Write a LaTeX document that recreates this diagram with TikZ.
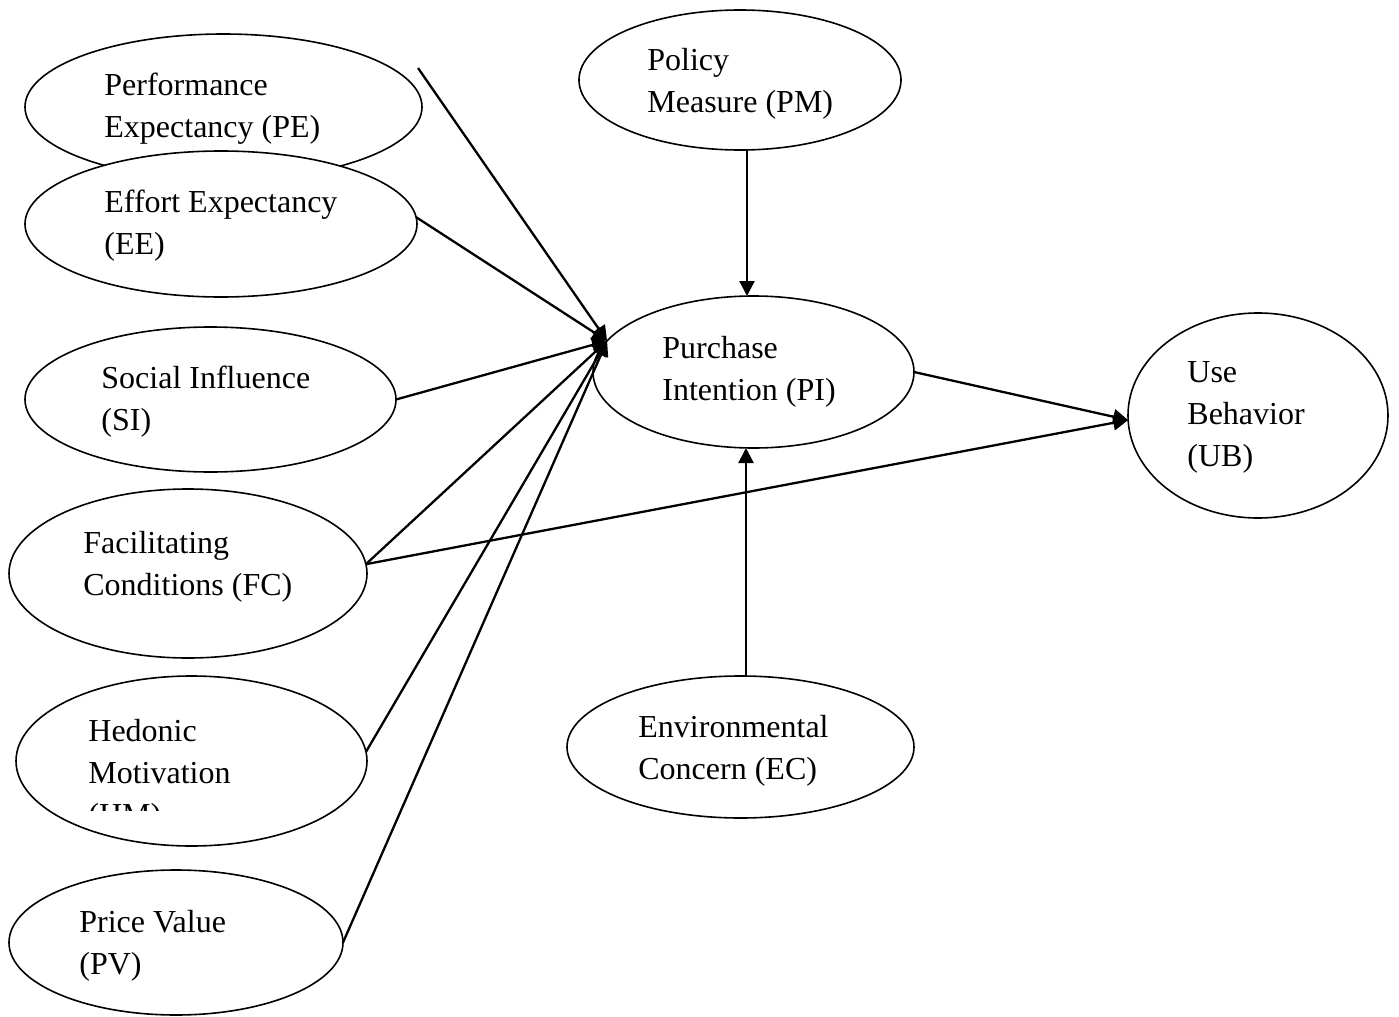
\documentclass[tikz,border=0pt]{standalone}
\usepackage{fontspec}
\setmainfont{Liberation Serif}
\usepackage{tikz}
\usetikzlibrary{shapes.geometric, arrows.meta}

\begin{document}
\begin{tikzpicture}[
		x=0.5pt, y=-0.5pt,
		construct/.style = {draw, ellipse, fill=white, line width=.8pt, inner sep=0pt, outer sep=0pt},
		txt/.style = {anchor=north west, align=left, inner sep=0pt, font=\fontsize{16}{21}\selectfont},
		effect/.style = {line width=1.15pt, -{Triangle[length=7.5pt, width=7.5pt]}}
	]
	\useasboundingbox (0,0) rectangle (1399,1017);
	% Left column.
	\node[construct, minimum width=198.5pt, minimum height=73pt] (pe) at (223.5,107) {};
	\node[txt] (pe-t) at (104,65.6) {\strut Performance\\Expectancy (PE)};
	\node[construct, minimum width=196pt, minimum height=73pt] (ee) at (221,224) {};
	\node[txt] (ee-t) at (104,182.6) {\strut Effort Expectancy\\(EE)};
	\node[construct, minimum width=185.5pt, minimum height=72.5pt] (si) at (210.5,399.5) {};
	\node[txt] (si-t) at (101,358.6) {\strut Social Influence\\(SI)};
	\node[construct, minimum width=179pt, minimum height=84.5pt] (fc) at (188,573.5) {};
	\node[txt] (fc-t) at (83,523.6) {\strut Facilitating\\Conditions (FC)};
	\node[construct, minimum width=175.5pt, minimum height=85pt] (hm) at (191.5,761) {};
	\begin{scope}
		\clip (0,0) rectangle (1399,810);
		\node[txt] (hm-t) at (88,711.6) {\strut Hedonic\\Motivation\\(HM)};
	\end{scope}
	\node[construct, minimum width=167pt, minimum height=72.5pt] (pv) at (176,942.5) {};
	\node[txt] (pv-t) at (79,902.6) {\strut Price Value\\(PV)};
	% Middle column.
	\node[construct, minimum width=161pt, minimum height=70pt] (pm) at (740,80) {};
	\node[txt] (pm-t) at (647,40.6) {\strut Policy\\Measure (PM)};
	\node[construct, minimum width=160.5pt, minimum height=76pt] (pi) at (753.5,372) {};
	\node[txt] (pi-t) at (662,328.6) {\strut Purchase\\Intention (PI)};
	\node[construct, minimum width=173.5pt, minimum height=71pt] (ec) at (740.5,747) {};
	\node[txt] (ec-t) at (638,707.6) {\strut Environmental\\Concern (EC)};
	% Right.
	\node[construct, minimum width=130pt, minimum height=102.5pt] (ub) at (1258,415.5) {};
	\node[txt] (ub-t) at (1187,352.6) {\strut Use\\Behavior\\(UB)};

	\coordinate (pe-end) at (418,68);
	\draw[effect] (pe-end) to (pi.168);
	\draw[effect] (ee.2) to (pi.168);
	\draw[effect] (si.east) to (pi.168);
	\draw[effect] (fc.3) to (pi.168);
	\draw[effect] (hm.3) to (pi.168);
	\draw[effect] (pv.east) to (pi.168);
	\draw[effect] (fc.3) to (ub.182);
	\draw[effect] (pi.east) to (ub.182);
	\draw[effect] ([xshift=3.5pt]pm.south) to ([xshift=3.5pt]pm.south |- pi.north);
	\draw[effect] ([xshift=2.75pt]ec.north) to ([xshift=2.75pt]ec.north |- pi.south);
\end{tikzpicture}
\end{document}
